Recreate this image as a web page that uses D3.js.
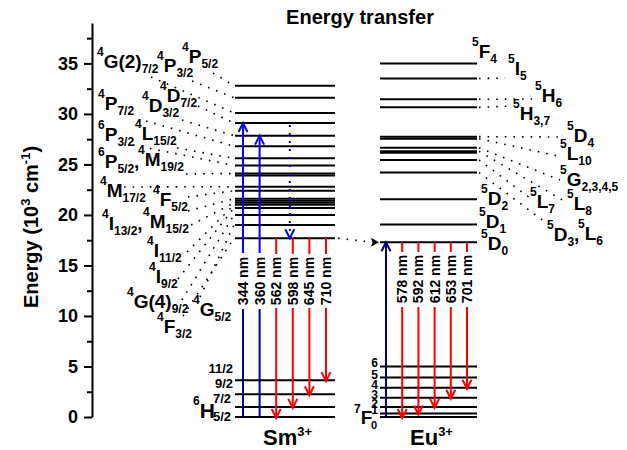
<!DOCTYPE html>
<html>
<head>
<meta charset="utf-8">
<title>Energy transfer</title>
<style>
  body { margin: 0; background: #fff; }
  text { font-family: Arial, "Liberation Sans", sans-serif; font-weight: bold; fill: #000; }
  .level { stroke: #000; stroke-width: 2; }
  .dots { stroke: #000; stroke-width: 1.6; stroke-dasharray: 1.6,7; fill: none; }
</style>
<script src="https://d3js.org/d3.v7.min.js"></script>
</head>
<body>
<script>
// energies in 10^3 cm^-1
var smGround = [0, 1.0, 2.25, 3.65];
var smUpper = [17.7, 19.0, 20.0, 20.7, 21.0, 21.2, 21.4, 21.6, 22.4, 22.8, 23.9, 24.1,
               24.9, 25.6, 26.8, 27.85, 29.1, 30.1, 31.6, 32.8];
var euGround = [0, 0.35, 1.0, 1.9, 2.9, 3.9, 5.0];
var euUpper = [17.3, 19.05, 21.55, 24.2, 25.45, 26.15, 26.3, 26.65, 27.55, 27.75, 30.65, 31.45, 33.5, 35.0];

var smExciteNm = [344, 360];
var smExciteTo = [29.1, 27.85];
var smEmitNm = [562, 598, 645, 710];
var smEmitTo = [0, 1.0, 2.25, 3.65];
var smEmitFrom = 17.7;
var smRelaxFrom = 28.9;
var euExciteTo = 17.3;
var euEmitNm = [578, 592, 612, 653, 701];
var euEmitTo = [0, 0.35, 1.0, 1.9, 2.9];

var yTicks = [0, 5, 10, 15, 20, 25, 30, 35];
var yMinor = [2.5, 7.5, 12.5, 17.5, 22.5, 27.5, 32.5, 37.5];

// term symbols "sup|main|sub|tail" and the level they point to
var smTerms = ["4|G(2)|7/2", "4|P|3/2", "4|P|5/2", "4|P|7/2", "4|D|3/2", "4|D|7/2",
               "6|P|3/2", "4|L|15/2", "6|P|5/2|,", "4|M|19/2", "4|M|17/2", "4|F|5/2",
               "4|I|13/2|,", "4|M|15/2", "4|I|11/2", "4|I|9/2", "4|G(4)|9/2", "4|G|5/2", "4|F|3/2"];
var smTermLevel = [30.1, 31.6, 32.8, 26.8, 27.85, 29.1, 24.9, 25.6, null, 24.1, 22.8, 22.4,
                   21.6, 21.2, 21.0, 20.7, 20.0, 19.0, 17.7];
var euTerms = ["5|F|4", "5|I|5", "5|H|6", "5|H|3,7", "5|D|4", "5|L|10", "5|G|2,3,4,5",
               "5|L|8", "5|L|7", "5|D|3|,", "5|L|6", "5|D|2", "5|D|1", "5|D|0"];
var euTermLevel = [null, 33.5, 31.45, 30.65, 27.75, 27.55, 26.65, 26.3, 25.45, 24.2, null, null, null, null];
var smSubLevels = ["11/2", "9/2"];
var euSubLevels = ["1", "2", "3", "4", "5", "6"];

// layout: [text x, baseline, dot start x, dot start y]
var smTermPos = [[97,68,151,77],[157,72,192,81],[182,63,213,73],[98,110,146,121],[142,112,182,120],
  [160,102,198,106],[98,141,133,145],[135,140,177,148],[98,168],[138,166,186,174],[100,196.5,124,187],
  [153,206,188,197],[102,230,188,211],[143,228,191,225],[147,256.5,187,252],[149,283,178,279],
  [127,308,182,300],[193,316,200,297],[157,333,183,316]];
var euTermPos = [[472,58],[508,75,505,78],[535,101.5,538,99],[513,120,512,106],[567,141.5,565,137],
  [560,160,558,156],[560,186,560,180],[567,210,564,201],[530,208,530,198],[547,241,545,222],
  [578,240],[481,205],[479,228],[481,250]];

var W = 627, H = 450;
var BLUE = "#0000ff", NAVY = "#000080", RED = "#ff0000";
var svg = d3.select("body").append("svg").attr("width", W).attr("height", H);

var y = d3.scaleLinear().domain([0, 39]).range([417, 23]);
var xSm = d3.scalePoint().domain(smExciteNm.concat(smEmitNm)).range([243, 326]);
var xEu = d3.scalePoint().domain(["ex"].concat(euEmitNm)).range([386, 467]);
var smX = [235, 335], euX = [380, 477];

// axis
var gMinor = svg.append("g").attr("transform", "translate(92,0)")
  .call(d3.axisLeft(y).tickValues(yMinor).tickSize(5).tickFormat(""));
gMinor.select(".domain").remove();
gMinor.selectAll("line").attr("stroke-width", 2);
var gMajor = svg.append("g").attr("transform", "translate(92,0)")
  .call(d3.axisLeft(y).tickValues(yTicks).tickSize(8).tickSizeOuter(0).tickPadding(6));
gMajor.attr("font-size", 18).attr("font-family", null);
gMajor.select(".domain").attr("stroke-width", 2);
gMajor.selectAll("line").attr("stroke-width", 2);

var ylab = svg.append("text").attr("transform", "translate(38,227) rotate(-90)")
  .attr("text-anchor", "middle").attr("font-size", 20);
ylab.append("tspan").text("Energy (10");
ylab.append("tspan").attr("font-size", 13).attr("dy", -8).text("3");
ylab.append("tspan").attr("dy", 8).text(" cm");
ylab.append("tspan").attr("font-size", 13).attr("dy", -8).text("-1");
ylab.append("tspan").attr("dy", 8).text(")");

svg.append("text").attr("x", 360).attr("y", 24).attr("text-anchor", "middle")
  .attr("font-size", 20).text("Energy transfer");

// levels
function levels(data, xr) {
  svg.append("g").selectAll("line").data(data).enter().append("line")
    .attr("class", "level")
    .attr("x1", xr[0]).attr("x2", xr[1])
    .attr("y1", d => y(d)).attr("y2", d => y(d));
}
levels(smGround.concat(smUpper), smX);
levels(euGround.concat(euUpper), euX);

function term(x, yb, spec) {
  var p = spec.split("|");
  var t = svg.append("text").attr("x", x).attr("y", yb);
  t.append("tspan").attr("font-size", 12).attr("dy", -12).text(p[0]);
  t.append("tspan").attr("font-size", 19).attr("dy", 12).text(p[1]);
  if (p[2]) t.append("tspan").attr("font-size", 12).attr("dy", 5).text(p[2]);
  if (p[3]) t.append("tspan").attr("font-size", 19).attr("dy", -5).text(p[3]);
}

smTerms.forEach(function (s, i) {
  var pos = smTermPos[i];
  term(pos[0], pos[1], s);
  if (smTermLevel[i] != null)
    svg.append("line").attr("class", "dots")
      .attr("x1", pos[2]).attr("y1", pos[3])
      .attr("x2", smX[0] - 1).attr("y2", y(smTermLevel[i]));
});
euTerms.forEach(function (s, i) {
  var pos = euTermPos[i];
  term(pos[0], pos[1], s);
  if (euTermLevel[i] != null)
    svg.append("line").attr("class", "dots")
      .attr("x1", euX[1] + 2).attr("y1", y(euTermLevel[i]))
      .attr("x2", pos[2]).attr("y2", pos[3]);
});

// ground multiplet labels
svg.append("text").attr("x", 233).attr("y", 373).attr("text-anchor", "end").attr("font-size", 13).text(smSubLevels[0]);
svg.append("text").attr("x", 233).attr("y", 388).attr("text-anchor", "end").attr("font-size", 13).text(smSubLevels[1]);
var h6 = svg.append("text").attr("x", 193).attr("y", 418);
h6.append("tspan").attr("font-size", 12).attr("dy", -13).text("6");
h6.append("tspan").attr("font-size", 21).attr("dy", 13).text("H");
svg.append("text").attr("x", 213).attr("y", 403).attr("font-size", 13).text("7/2");
svg.append("text").attr("x", 213).attr("y", 421).attr("font-size", 13).text("5/2");

var f7 = svg.append("text").attr("x", 354).attr("y", 424);
f7.append("tspan").attr("font-size", 12).attr("dy", -11).text("7");
f7.append("tspan").attr("font-size", 19).attr("dy", 11).text("F");
svg.append("text").attr("x", 371).attr("y", 429).attr("font-size", 11).text("0");
svg.append("g").selectAll("text").data(euSubLevels).enter().append("text")
  .attr("x", 378).attr("text-anchor", "end").attr("font-size", 12)
  .attr("y", (d, i) => y(euGround[i + 1]) + 1).text(d => d);

function ion(x, name) {
  var t = svg.append("text").attr("x", x).attr("y", 445).attr("font-size", 22);
  t.append("tspan").text(name);
  t.append("tspan").attr("font-size", 13).attr("dy", -9).text("3+");
}
ion(263, "Sm");
ion(410, "Eu");

// arrows
function seg(x, y1, y2, color, dash) {
  svg.append("line").attr("x1", x).attr("x2", x).attr("y1", y1).attr("y2", y2)
    .attr("stroke", color).attr("stroke-width", 2)
    .attr("stroke-dasharray", dash || null);
}
function head(x, tip, dir, color) {
  var b = tip - dir * 9;
  svg.append("polyline").attr("points", [[x - 4.5, b], [x, tip], [x + 4.5, b]].join(" "))
    .attr("fill", "none").attr("stroke", color).attr("stroke-width", 2);
}
function nmLabel(x, cy, nm) {
  svg.append("text").attr("transform", "translate(" + (x + 5) + "," + cy + ") rotate(-90)")
    .attr("text-anchor", "middle").attr("font-size", 14).text(nm + " nm");
}

smExciteNm.forEach(function (nm, i) {
  var x = xSm(nm);
  seg(x, y(0), 309, NAVY);
  seg(x, 253, y(smExciteTo[i]) + 1, BLUE);
  head(x, y(smExciteTo[i]), -1, BLUE);
  nmLabel(x, 281, nm);
});
smEmitNm.forEach(function (nm, i) {
  var x = xSm(nm);
  seg(x, y(smEmitFrom), 254, RED);
  seg(x, 308, y(smEmitTo[i]) - 1, RED);
  head(x, y(smEmitTo[i]) + 1, 1, RED);
  nmLabel(x, 281, nm);
});
// non-radiative relaxation in Sm
seg(xSm(598) - 3, y(smRelaxFrom), y(smEmitFrom) - 3, BLUE, "2,6");
head(xSm(598) - 3, y(smEmitFrom), 1, BLUE);

seg(xEu("ex"), y(0), y(euExciteTo) + 1, NAVY);
head(xEu("ex"), y(euExciteTo), -1, NAVY);
euEmitNm.forEach(function (nm, i) {
  var x = xEu(nm);
  seg(x, y(euExciteTo), 252, RED);
  seg(x, 307, y(euEmitTo[i]) - 1, RED);
  head(x, y(euEmitTo[i]) + 1, 1, RED);
  nmLabel(x, 279, nm);
});

// Sm -> Eu transfer
svg.append("line").attr("class", "dots")
  .attr("x1", smX[1] + 3).attr("y1", y(smEmitFrom))
  .attr("x2", euX[0] - 8).attr("y2", y(euExciteTo));
svg.append("path")
  .attr("d", "M" + (euX[0] - 1) + "," + y(euExciteTo) + "l-8,-4.5l1.5,4.5l-1.5,4.5z")
  .attr("fill", "#000");
</script>
</body>
</html>
